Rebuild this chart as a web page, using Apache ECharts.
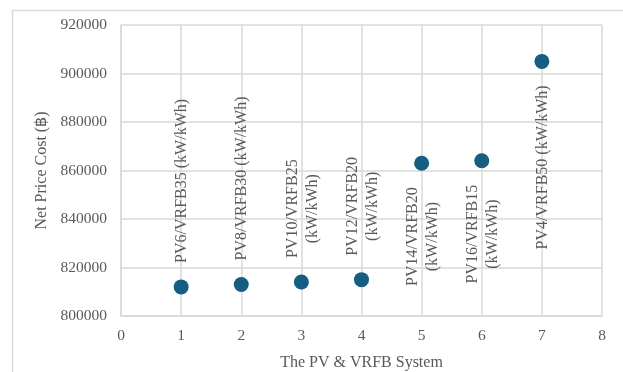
<!DOCTYPE html>
<html>
<head>
<meta charset="utf-8">
<script src="https://cdn.jsdelivr.net/npm/echarts@6/dist/echarts.min.js"></script>
<style>
html,body{margin:0;padding:0;background:#fff;}
#chart{width:623px;height:372px;}
</style>
</head>
<body>
<div id="chart"></div>
<script>
// Data
const systemNumbers = [1, 2, 3, 4, 5, 6, 7];
const netPriceCost = [812000, 813000, 814000, 815000, 863000, 864000, 905000];
const systemLabels = [
  'PV6/VRFB35 (kW/kWh)',
  'PV8/VRFB30 (kW/kWh)',
  'PV10/VRFB25\n(kW/kWh)',
  'PV12/VRFB20\n(kW/kWh)',
  'PV14/VRFB20\n(kW/kWh)',
  'PV16/VRFB15\n(kW/kWh)',
  'PV4/VRFB50 (kW/kWh)'
];
const xTicks = { min: 0, max: 8, interval: 1 };
const yTicks = { min: 800000, max: 920000, interval: 20000 };

// Label placement relative to point (layout, not data)
const labelSide = ['above', 'above', 'above', 'above', 'below', 'below', 'below'];

const points = systemNumbers.map((x, i) => [x, netPriceCost[i]]);

const textColor = '#595959';
const gridColor = '#d9d9d9';
const font = '"Liberation Serif", "Times New Roman", serif';

const chart = echarts.init(document.getElementById('chart'), null, { renderer: 'canvas' });
chart.setOption({
  backgroundColor: '#ffffff',
  animation: false,
  graphic: [{
    type: 'rect',
    z: -10,
    silent: true,
    shape: { x: 12.5, y: 10.5, width: 800, height: 500 },
    style: { fill: 'none', stroke: gridColor, lineWidth: 1.5 }
  }],
  grid: { left: 121, top: 25, right: 21, bottom: 56, containLabel: false, outerBoundsMode: 'none' },
  xAxis: {
    type: 'value',
    min: xTicks.min, max: xTicks.max, interval: xTicks.interval,
    name: 'The PV & VRFB System',
    nameLocation: 'middle',
    nameGap: 39,
    nameTextStyle: { color: textColor, fontFamily: font, fontSize: 16 },
    axisLine: { show: true, lineStyle: { color: gridColor, width: 1.5 } },
    axisTick: { show: false },
    axisLabel: { color: textColor, fontFamily: font, fontSize: 15.5, margin: 12 },
    splitLine: { show: true, lineStyle: { color: gridColor, width: 1.5 } }
  },
  yAxis: {
    type: 'value',
    min: yTicks.min, max: yTicks.max, interval: yTicks.interval,
    name: 'Net Price Cost (฿)',
    nameLocation: 'middle',
    nameGap: 62,
    nameTextStyle: { color: textColor, fontFamily: font, fontSize: 16 },
    axisLine: { show: true, lineStyle: { color: gridColor, width: 1.5 } },
    axisTick: { show: false },
    axisLabel: { color: textColor, fontFamily: font, fontSize: 15.5, margin: 14, formatter: v => String(v) },
    splitLine: { show: true, lineStyle: { color: gridColor, width: 1.5 } }
  },
  series: [{
    type: 'scatter',
    data: points,
    symbol: 'circle',
    symbolSize: 15,
    itemStyle: { color: '#155e82', opacity: 1 },
    label: {
      show: true,
      formatter: p => systemLabels[p.dataIndex],
      rotate: 90,
      align: 'center',
      verticalAlign: 'middle',
      color: textColor,
      fontFamily: font,
      fontSize: 16,
      lineHeight: 20,
      position: 'inside'
    },
    labelLayout: function (params) {
      const r = params.rect;
      const lr = params.labelRect;
      const cx = r.x + r.width / 2;
      const cy = r.y + r.height / 2;
      const gap = 24;
      const half = lr.height / 2;
      const y = labelSide[params.dataIndex] === 'above' ? cy - gap - half : cy + gap + half;
      return { x: cx + 1, y: y };
    }
  }]
});
</script>
</body>
</html>
